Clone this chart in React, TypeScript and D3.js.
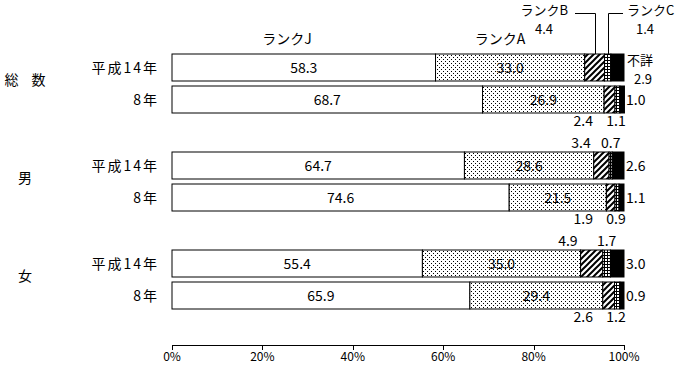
import React from "react";
import * as d3 from "d3";

const groups = ["総 数", "男", "女"];
const years = ["平成14年", "8年"];
const seriesNames = ["ランクJ", "ランクA", "ランクB", "ランクC", "不詳"];
// rows in order: 総数 H14, 総数 H8, 男 H14, 男 H8, 女 H14, 女 H8
const rankJ = [58.3, 68.7, 64.7, 74.6, 55.4, 65.9];
const rankA = [33.0, 26.9, 28.6, 21.5, 35.0, 29.4];
const rankB = [4.4, 2.4, 3.4, 1.9, 4.9, 2.6];
const rankC = [1.4, 1.1, 0.7, 0.9, 1.7, 1.2];
const unknown = [2.9, 1.0, 2.6, 1.1, 3.0, 0.9];
const xTicks = [0, 20, 40, 60, 80, 100];

const FONT = "'Noto Sans CJK JP', 'Noto Sans', sans-serif";
const fills = ["#fff", "url(#dots)", "url(#hatch)", "url(#ladder)", "#000"];

export default function App() {
  const W = 679, H = 380;
  const x = d3.scaleLinear().domain([0, 100]).range([172, 624]);
  const gy = d3.scaleBand<string>().domain(groups).range([54, 348]);
  const yy = d3.scaleBand<string>().domain(years).range([0, 59]).paddingInner(5 / 32);
  const bh = yy.bandwidth();

  const rows = groups.flatMap((g, gi) =>
    years.map((yr, yi) => {
      const i = gi * 2 + yi;
      const vals = [rankJ[i], rankA[i], rankB[i], rankC[i], unknown[i]];
      let acc = 0;
      const segs = vals.map((v) => {
        const s = { x0: acc, x1: acc + v, v };
        acc += v;
        return s;
      });
      return { g, yr, gi, yi, i, segs, top: (gy(g) ?? 0) + (yy(yr) ?? 0) };
    })
  );

  const fmt = (v: number) => v.toFixed(1);
  const ts = { fontFamily: FONT, fontSize: 14, fill: "#000" } as const;
  const ts13 = { fontFamily: FONT, fontSize: 13, fill: "#000" } as const;

  return (
    <svg width={W} height={H} style={{ position: "absolute", left: 0, top: 0, background: "#fff" }}>
      <defs>
        <pattern id="dots" width={4} height={4} patternUnits="userSpaceOnUse">
          <rect width={4} height={4} fill="#fff" />
          <rect x={1} y={1} width={1} height={1} fill="#000" />
          <rect x={3} y={3} width={1} height={1} fill="#000" />
        </pattern>
        <pattern id="hatch" width={6} height={6} patternUnits="userSpaceOnUse">
          <rect width={6} height={6} fill="#fff" />
          <path d="M-1,1 L1,-1 M0,6 L6,0 M5,7 L7,5" stroke="#000" strokeWidth={2} />
        </pattern>
        <pattern id="ladder" width={3} height={3} patternUnits="userSpaceOnUse">
          <rect width={3} height={3} fill="#fff" />
          <rect x={0} y={0} width={3} height={1} fill="#000" />
          <rect x={1} y={0} width={1} height={3} fill="#000" />
        </pattern>
      </defs>

      {/* group labels */}
      {groups.map((g) => (
        <text key={g} x={25} y={(gy(g) ?? 0) + 31} textAnchor="middle" {...ts} wordSpacing={10}>
          {g}
        </text>
      ))}

      {rows.map((r) => {
        const cy = r.top + bh / 2;
        const [, , b, c, u] = r.segs;
        const bMid = (x(b.x0) + x(b.x1)) / 2;
        const cMid = (x(c.x0) + x(c.x1)) / 2;
        const first = r.i === 0;
        const bEnd = Math.min(x(b.x0) - 3, 593);
        const cLab = Math.min(Math.max(cMid, bEnd + 20), 616);
        const labY = r.yi === 0 ? r.top - 4 : r.top + bh + 13;
        return (
          <g key={r.i}>
            <text x={159} y={cy + 5} textAnchor="end" {...ts} letterSpacing={2}>
              {r.yr}
            </text>
            {r.segs.map((s, si) => (
              <rect
                key={si}
                x={x(s.x0)}
                y={r.top}
                width={Math.max(0, x(s.x1) - x(s.x0))}
                height={bh}
                fill={fills[si]}
                stroke="#000"
                strokeWidth={1}
              />
            ))}
            {r.segs.slice(0, 2).map((s, si) => (
              <text key={si} x={(x(s.x0) + x(s.x1)) / 2} y={cy + 5} textAnchor="middle" {...ts}>
                {fmt(s.v)}
              </text>
            ))}
            {first ? (
              <g>
                <path d={`M575,13.5 H${Math.round(bMid) + 0.5} V${r.top}`} fill="none" stroke="#000" />
                <path d={`M623,13.5 H${Math.round(cMid) + 0.5} V${r.top}`} fill="none" stroke="#000" />
                <text x={287} y={44} textAnchor="middle" {...ts}>{seriesNames[0]}</text>
                <text x={500} y={44} textAnchor="middle" {...ts}>{seriesNames[1]}</text>
                <text x={568} y={15} textAnchor="end" {...ts13}>{seriesNames[2]}</text>
                <text x={544} y={34} textAnchor="middle" {...ts13}>{fmt(b.v)}</text>
                <text x={627} y={15} textAnchor="start" {...ts13}>{seriesNames[3]}</text>
                <text x={645} y={34} textAnchor="middle" {...ts13}>{fmt(c.v)}</text>
                <text x={627} y={65} textAnchor="start" {...ts13}>{seriesNames[4]}</text>
                <text x={643} y={84} textAnchor="middle" {...ts13}>{fmt(u.v)}</text>
              </g>
            ) : (
              <g>
                <text x={bEnd} y={labY} textAnchor="end" {...ts}>{fmt(b.v)}</text>
                <text x={cLab} y={labY} textAnchor="middle" {...ts}>{fmt(c.v)}</text>
                <text x={626} y={cy + 5} textAnchor="start" {...ts}>{fmt(u.v)}</text>
              </g>
            )}
          </g>
        );
      })}

      {/* axis */}
      <line x1={x(0)} x2={x(100)} y1={345.5} y2={345.5} stroke="#000" />
      {xTicks.map((t) => (
        <g key={t}>
          <line x1={Math.round(x(t)) + 0.5} x2={Math.round(x(t)) + 0.5} y1={345} y2={350} stroke="#000" />
          <text x={x(t)} y={361} textAnchor="middle" fontFamily={FONT} fontSize={12} fill="#000">
            {t}%
          </text>
        </g>
      ))}
    </svg>
  );
}
